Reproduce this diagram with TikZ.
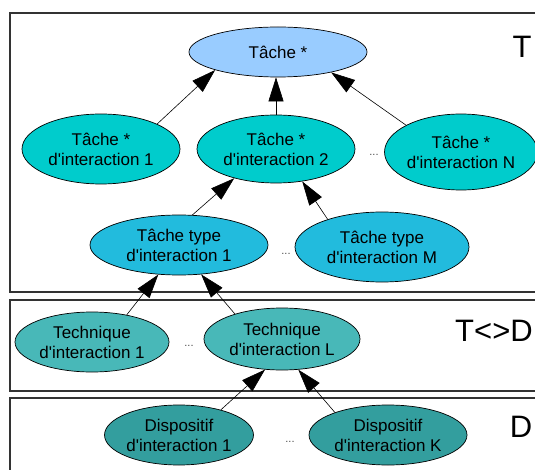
\documentclass[tikz,border=0pt]{standalone}
\usepackage{fontspec}
\setmainfont{Liberation Sans}[Ligatures=TeXOff]
\usetikzlibrary{shapes.geometric,arrows.meta}
\definecolor{cTop}{HTML}{99CCFF}
\definecolor{cTask}{HTML}{00CCCC}
\definecolor{cType}{HTML}{22BBDD}
\definecolor{cTech}{HTML}{48B8B8}
\definecolor{cDisp}{HTML}{339E9E}
\begin{document}
\begin{tikzpicture}[x=1pt,y=-1pt,
  ell/.style={ellipse, draw=black, line width=0.7pt, inner sep=0pt, align=center,
    font=\fontsize{17}{20}\selectfont},
  arr/.style={-{Triangle[length=24pt,width=15pt]}, line width=0.6pt},
  layer/.style={draw=black!80, line width=1.4pt},
  dots/.style={font=\fontsize{11}{12}\selectfont, text=black!70, inner sep=0pt},
  big/.style={font=\fontsize{31}{34}\selectfont, inner sep=0pt}]
\clip (0,0) rectangle (535,470);
\fill[white] (0,0) rectangle (535,470);
% layers
\draw[layer] (10,13) rectangle (545,292);
\draw[layer] (10,300) rectangle (545,391);
\draw[layer] (10,398) rectangle (545,480);
\node[big] (lT) at (522,47) {T};
\node[big] (lTD) at (494,331) {T<>D};
\node[big] (lD) at (521,427) {D};
% nodes
\node[ell, fill=cTop, minimum width=178pt, minimum height=50pt] (e1) at (278,52) {Tâche *};
\node[ell, fill=cTask, minimum width=158pt, minimum height=70pt] (e2) at (101,149) {Tâche *\\d'interaction 1};
\node[ell, fill=cTask, minimum width=158pt, minimum height=68pt] (e3) at (276,149) {Tâche *\\d'interaction 2};
\node[ell, fill=cTask, minimum width=144pt, minimum height=76pt] (e4) at (461,152) {Tâche *\\d'interaction N};
\node[ell, fill=cType, minimum width=178pt, minimum height=60pt] (e5) at (179,245) {Tâche type\\d'interaction 1};
\node[ell, fill=cType, minimum width=174pt, minimum height=70pt] (e6) at (382,247) {Tâche type\\d'interaction M};
\node[ell, fill=cTech, minimum width=154pt, minimum height=60pt] (e7) at (92,342) {Technique\\d'interaction 1};
\node[ell, fill=cTech, minimum width=156pt, minimum height=62pt] (e8) at (282,339) {Technique\\d'interaction L};
\node[ell, fill=cDisp, minimum width=146pt, minimum height=60pt] (e9) at (179,435) {Dispositif\\d'interaction 1};
\node[ell, fill=cDisp, minimum width=158pt, minimum height=60pt] (e10) at (388,435) {Dispositif\\d'interaction K};
% dots
\node[dots] (d1) at (374,155) {...};
\node[dots] (d2) at (286,254) {...};
\node[dots] (d3) at (189,346) {...};
\node[dots] (d4) at (290,442) {...};
% arrows
\draw[arr] (e2.24) -- (e1.196);
\draw[arr] (e3.north) -- (e3.north |- e1.south);
\draw[arr] (e4.154) -- (e1.339);
\draw[arr] (e5.66) -- (e3.215);
\draw[arr] (e6.153) -- (e3.309);
\draw[arr] (e7.38) -- (e5.235);
\draw[arr] (e8.152) -- (e5.307);
\draw[arr] (e9.31) -- (e8.241);
\draw[arr] (e10.157) -- (e8.298);
\end{tikzpicture}
\end{document}
